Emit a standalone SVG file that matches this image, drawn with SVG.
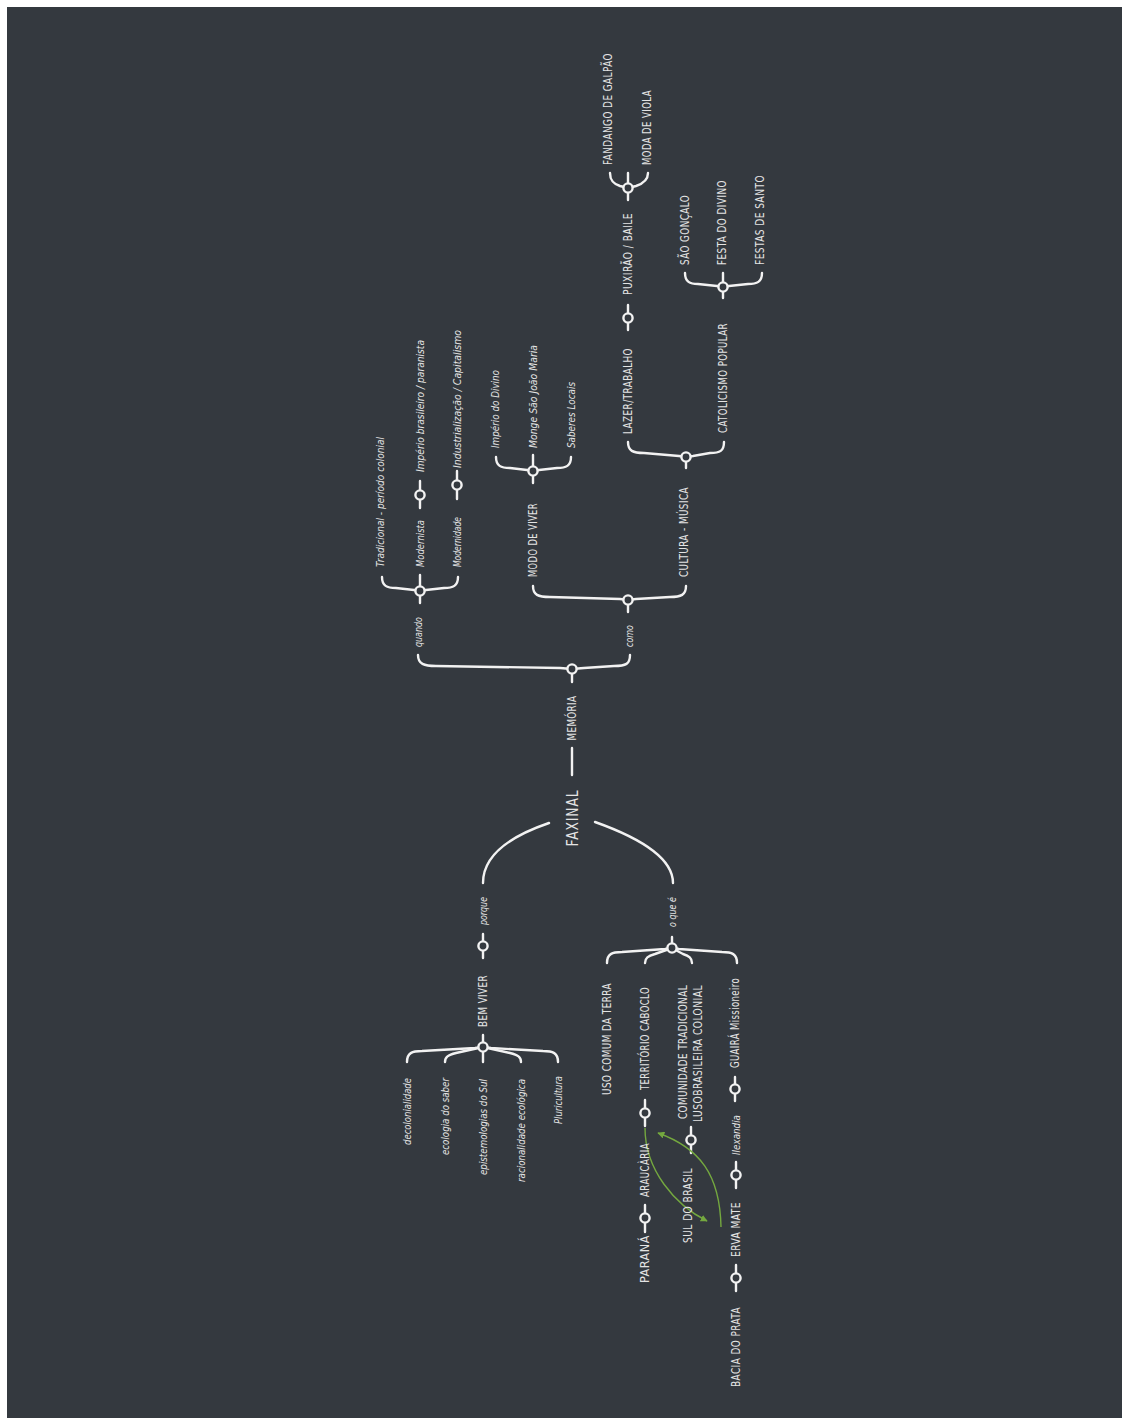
<svg xmlns="http://www.w3.org/2000/svg" width="1122" height="1418" viewBox="0 0 1122 1418">
  <defs>
    <style>
      .bg { fill: #34393f; }
      .ln { fill: none; stroke: #f2f2f2; stroke-width: 2.4; stroke-linecap: round; stroke-linejoin: round; }
      .kn { fill: #34393f; stroke: #f2f2f2; stroke-width: 2.4; }
      .gr { fill: none; stroke: #74a83f; stroke-width: 1.4; }
      text { fill: #e4e4e4; dominant-baseline: central; }
      .c { font-family: "DejaVu Sans Condensed", "DejaVu Sans", sans-serif; font-size: 11.5px; letter-spacing: 0.5px; }
      .i { font-family: "DejaVu Sans Condensed", "DejaVu Sans", sans-serif; font-size: 10.5px; font-style: italic; }
      .big { font-family: "DejaVu Sans Condensed", "DejaVu Sans", sans-serif; font-size: 16px; letter-spacing: 1px; }
    </style>
    <marker id="ah" viewBox="0 0 10 10" refX="9" refY="5" markerWidth="7" markerHeight="7" markerUnits="userSpaceOnUse" orient="auto">
      <path d="M0,0 L10,5 L0,10 Z" fill="#74a83f"/>
    </marker>
  </defs>

  <rect x="0" y="0" width="1122" height="1418" fill="#ffffff"/>
  <rect class="bg" x="7" y="7" width="1115" height="1411"/>

  <!-- connectors: braces, stems, knots and arcs -->
  <g id="connectors">
    <!-- central axis -->
    <line class="ln" x1="572" y1="748" x2="572" y2="775"/>
    <path class="ln" d="M549,823 C505,838 483,858 483,883"/>
    <path class="ln" d="M595,822 C640,838 673,858 673,883"/>

    <!-- upper braces (open upwards) -->
    <path class="ln" d="M418,655 C418,664 424,666 436,666 L560,668 L572,669 L584,668 L614,666 C626,666 630,664 630,655"/>
    <path class="ln" d="M382,577 C382,586 387,588 396,588 L414,590 L420,591 L426,590 L444,588 C453,588 458,586 458,577"/>
    <path class="ln" d="M533,586 C533,595 538,597 550,597 L620,599 L628,600 L636,599 L670,597 C681,597 686,595 686,586"/>
    <path class="ln" d="M496,457 C496,466 501,468 510,468 L527,470 L533,471 L539,470 L557,468 C566,468 571,466 571,457"/>
    <path class="ln" d="M628,442 C628,451 633,453 644,453 L679,456 L686,457 L693,456 L710,453 C720,453 724,451 724,442"/>
    <path class="ln" d="M610,173 C610,181 614,184 620,186 L628,188 L636,186 C642,184 648,181 648,173"/>
    <path class="ln" d="M685,273 C685,282 690,284 698,284 L717,286 L723,287 L729,286 L748,284 C757,284 762,282 762,273"/>

    <!-- stems -->
    <line class="ln" x1="572" y1="669" x2="572" y2="682"/>
    <line class="ln" x1="420" y1="575" x2="420" y2="603"/>
    <line class="ln" x1="420" y1="481" x2="420" y2="508"/>
    <line class="ln" x1="457" y1="471" x2="457" y2="499"/>
    <line class="ln" x1="628" y1="600" x2="628" y2="612"/>
    <line class="ln" x1="533" y1="455" x2="533" y2="483"/>
    <line class="ln" x1="686" y1="457" x2="686" y2="468"/>
    <line class="ln" x1="628" y1="305" x2="628" y2="330"/>
    <line class="ln" x1="628" y1="173" x2="628" y2="200"/>
    <line class="ln" x1="723" y1="273" x2="723" y2="298"/>

    <!-- lower braces (open downwards) -->
    <path class="ln" d="M407,1062 C407,1053 412,1051 422,1051 L475,1048 L483,1047 L491,1048 L543,1051 C553,1051 558,1053 558,1062"/>
    <path class="ln" d="M445,1062 C445,1057 448,1055 456,1053 L483,1047 L510,1053 C518,1055 521,1057 521,1062"/>
    <path class="ln" d="M607,963 C607,954 612,952 622,952 L665,949 L672,948 L679,949 L722,952 C732,952 737,954 737,963"/>
    <path class="ln" d="M645,963 C645,958 648,956 655,954 L672,948 L683,954 C689,956 692,958 692,963"/>

    <line class="ln" x1="483" y1="934" x2="483" y2="958"/>
    <line class="ln" x1="483" y1="1035" x2="483" y2="1062"/>
    <line class="ln" x1="672" y1="937" x2="672" y2="948"/>
    <line class="ln" x1="645" y1="1100" x2="645" y2="1126"/>
    <line class="ln" x1="645" y1="1205" x2="645" y2="1232"/>
    <line class="ln" x1="691" y1="1127" x2="691" y2="1153"/>
    <line class="ln" x1="735" y1="1077" x2="735" y2="1101"/>
    <line class="ln" x1="736" y1="1162" x2="736" y2="1188"/>
    <line class="ln" x1="736" y1="1265" x2="736" y2="1291"/>

    <!-- knots -->
    <circle class="kn" cx="572" cy="669" r="4.6"/>
    <circle class="kn" cx="420" cy="591" r="4.6"/>
    <circle class="kn" cx="420" cy="495" r="4.6"/>
    <circle class="kn" cx="457" cy="485" r="4.6"/>
    <circle class="kn" cx="628" cy="600" r="4.6"/>
    <circle class="kn" cx="533" cy="471" r="4.6"/>
    <circle class="kn" cx="686" cy="457" r="4.6"/>
    <circle class="kn" cx="628" cy="318" r="4.6"/>
    <circle class="kn" cx="628" cy="188" r="4.6"/>
    <circle class="kn" cx="723" cy="287" r="4.6"/>
    <circle class="kn" cx="483" cy="946" r="4.6"/>
    <circle class="kn" cx="483" cy="1047" r="4.6"/>
    <circle class="kn" cx="672" cy="948" r="4.6"/>
    <circle class="kn" cx="645" cy="1113" r="4.6"/>
    <circle class="kn" cx="645" cy="1218" r="4.6"/>
    <circle class="kn" cx="691" cy="1140" r="4.6"/>
    <circle class="kn" cx="735" cy="1089" r="4.6"/>
    <circle class="kn" cx="736" cy="1175" r="4.6"/>
    <circle class="kn" cx="736" cy="1278" r="4.6"/>

    <!-- green cross links -->
    <path class="gr" d="M645,1128 C645,1170 675,1205 707,1221" marker-end="url(#ah)"/>
    <path class="gr" d="M721,1227 C720,1175 700,1148 658,1133" marker-end="url(#ah)"/>
  </g>

  <!-- centre -->
  <g id="faxinal"><text class="big" transform="translate(572,818) rotate(-90)" text-anchor="middle" textLength="57" lengthAdjust="spacingAndGlyphs">FAXINAL</text></g>
  <g id="memoria"><text class="c" transform="translate(572,718) rotate(-90)" text-anchor="middle" textLength="45" lengthAdjust="spacingAndGlyphs">MEMÓRIA</text></g>

  <!-- memória branch -->
  <g id="quando"><text class="i" transform="translate(418,632) rotate(-90)" text-anchor="middle" textLength="30" lengthAdjust="spacingAndGlyphs">quando</text></g>
  <g id="como"><text class="i" transform="translate(629,636) rotate(-90)" text-anchor="middle" textLength="22" lengthAdjust="spacingAndGlyphs">como</text></g>
  <g id="tradicional"><text class="i" transform="translate(380,567) rotate(-90)" textLength="130" lengthAdjust="spacingAndGlyphs">Tradicional - período colonial</text></g>
  <g id="modernista"><text class="i" transform="translate(420,567) rotate(-90)" textLength="47" lengthAdjust="spacingAndGlyphs">Modernista</text></g>
  <g id="imperio-brasileiro"><text class="i" transform="translate(420,472) rotate(-90)" textLength="132" lengthAdjust="spacingAndGlyphs">Império brasileiro / paranista</text></g>
  <g id="modernidade"><text class="i" transform="translate(457,567) rotate(-90)" textLength="50" lengthAdjust="spacingAndGlyphs">Modernidade</text></g>
  <g id="industrializacao"><text class="i" transform="translate(457,468) rotate(-90)" textLength="138" lengthAdjust="spacingAndGlyphs">Industrialização / Capitalismo</text></g>
  <g id="modo-de-viver"><text class="c" transform="translate(533,577) rotate(-90)" textLength="74" lengthAdjust="spacingAndGlyphs">MODO DE VIVER</text></g>
  <g id="cultura-musica"><text class="c" transform="translate(684,577) rotate(-90)" textLength="90" lengthAdjust="spacingAndGlyphs">CULTURA - MÚSICA</text></g>
  <g id="imperio-divino"><text class="i" transform="translate(495,448) rotate(-90)" textLength="78" lengthAdjust="spacingAndGlyphs">Império do Divino</text></g>
  <g id="monge"><text class="i" transform="translate(533,448) rotate(-90)" textLength="103" lengthAdjust="spacingAndGlyphs">Monge São João Maria</text></g>
  <g id="saberes"><text class="i" transform="translate(571,448) rotate(-90)" textLength="66" lengthAdjust="spacingAndGlyphs">Saberes Locais</text></g>
  <g id="lazer"><text class="c" transform="translate(628,434) rotate(-90)" textLength="86" lengthAdjust="spacingAndGlyphs">LAZER/TRABALHO</text></g>
  <g id="catolicismo"><text class="c" transform="translate(723,433) rotate(-90)" textLength="110" lengthAdjust="spacingAndGlyphs">CATOLICISMO POPULAR</text></g>
  <g id="puxirao"><text class="c" transform="translate(628,295) rotate(-90)" textLength="82" lengthAdjust="spacingAndGlyphs">PUXIRÃO / BAILE</text></g>
  <g id="fandango"><text class="c" transform="translate(608,165) rotate(-90)" textLength="112" lengthAdjust="spacingAndGlyphs">FANDANGO DE GALPÃO</text></g>
  <g id="moda-viola"><text class="c" transform="translate(647,165) rotate(-90)" textLength="75" lengthAdjust="spacingAndGlyphs">MODA DE VIOLA</text></g>
  <g id="sao-goncalo"><text class="c" transform="translate(685,265) rotate(-90)" textLength="70" lengthAdjust="spacingAndGlyphs">SÃO GONÇALO</text></g>
  <g id="festa-divino"><text class="c" transform="translate(722,265) rotate(-90)" textLength="85" lengthAdjust="spacingAndGlyphs">FESTA DO DIVINO</text></g>
  <g id="festas-santo"><text class="c" transform="translate(760,265) rotate(-90)" textLength="90" lengthAdjust="spacingAndGlyphs">FESTAS DE SANTO</text></g>

  <!-- porque branch -->
  <g id="porque"><text class="i" transform="translate(483,911) rotate(-90)" text-anchor="middle" textLength="28" lengthAdjust="spacingAndGlyphs">porque</text></g>
  <g id="bem-viver"><text class="c" transform="translate(483,975) rotate(-90)" text-anchor="end" textLength="52" lengthAdjust="spacingAndGlyphs">BEM VIVER</text></g>
  <g id="decolonialidade"><text class="i" transform="translate(407,1078) rotate(-90)" text-anchor="end" textLength="67" lengthAdjust="spacingAndGlyphs">decolonialidade</text></g>
  <g id="ecologia"><text class="i" transform="translate(445,1078) rotate(-90)" text-anchor="end" textLength="77" lengthAdjust="spacingAndGlyphs">ecologia do saber</text></g>
  <g id="epistemologias"><text class="i" transform="translate(483,1079) rotate(-90)" text-anchor="end" textLength="96" lengthAdjust="spacingAndGlyphs">epistemologias do Sul</text></g>
  <g id="racionalidade"><text class="i" transform="translate(521,1079) rotate(-90)" text-anchor="end" textLength="103" lengthAdjust="spacingAndGlyphs">racionalidade ecológica</text></g>
  <g id="pluricultura"><text class="i" transform="translate(558,1076) rotate(-90)" text-anchor="end" textLength="48" lengthAdjust="spacingAndGlyphs">Pluricultura</text></g>

  <!-- o que é branch -->
  <g id="o-que-e"><text class="i" transform="translate(672,912) rotate(-90)" text-anchor="middle" textLength="30" lengthAdjust="spacingAndGlyphs">o que é</text></g>
  <g id="uso-comum"><text class="c" transform="translate(607,983) rotate(-90)" text-anchor="end" textLength="112" lengthAdjust="spacingAndGlyphs">USO COMUM DA TERRA</text></g>
  <g id="territorio"><text class="c" transform="translate(645,987) rotate(-90)" text-anchor="end" textLength="103" lengthAdjust="spacingAndGlyphs">TERRITÓRIO CABOCLO</text></g>
  <g id="comunidade">
    <text class="c" transform="translate(683,985) rotate(-90)" text-anchor="end" textLength="134" lengthAdjust="spacingAndGlyphs">COMUNIDADE TRADICIONAL</text>
    <text class="c" transform="translate(698,985) rotate(-90)" text-anchor="end" textLength="137" lengthAdjust="spacingAndGlyphs">LUSOBRASILEIRA COLONIAL</text>
  </g>
  <g id="guaira"><text class="c" transform="translate(735,978) rotate(-90)" text-anchor="end" textLength="90" lengthAdjust="spacingAndGlyphs">GUAIRÁ Missioneiro</text></g>
  <g id="araucaria"><text class="c" transform="translate(645,1143) rotate(-90)" text-anchor="end" textLength="54" lengthAdjust="spacingAndGlyphs">ARAUCÀRIA</text></g>
  <g id="parana"><text class="c" transform="translate(645,1235) rotate(-90)" text-anchor="end" textLength="48" lengthAdjust="spacingAndGlyphs">PARANÁ</text></g>
  <g id="sul-do-brasil"><text class="c" transform="translate(688,1168) rotate(-90)" text-anchor="end" textLength="75" lengthAdjust="spacingAndGlyphs">SUL DO BRASIL</text></g>
  <g id="ilexandia"><text class="i" transform="translate(736,1115) rotate(-90)" text-anchor="end" textLength="40" lengthAdjust="spacingAndGlyphs">Ilexandia</text></g>
  <g id="erva-mate"><text class="c" transform="translate(736,1202) rotate(-90)" text-anchor="end" textLength="55" lengthAdjust="spacingAndGlyphs">ERVA MATE</text></g>
  <g id="bacia-prata"><text class="c" transform="translate(736,1307) rotate(-90)" text-anchor="end" textLength="80" lengthAdjust="spacingAndGlyphs">BACIA DO PRATA</text></g>
</svg>
